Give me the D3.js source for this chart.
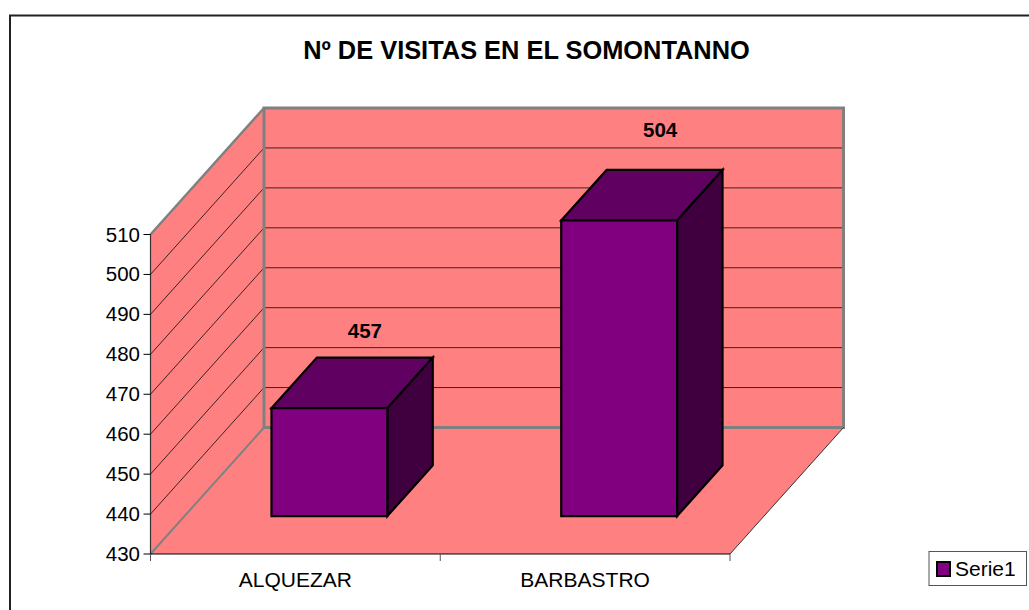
<!DOCTYPE html>
<html><head><meta charset="utf-8">
<script src="https://cdn.jsdelivr.net/npm/d3@7/dist/d3.min.js"></script>
<style>html,body{margin:0;padding:0;background:#fff}svg{display:block}text{font-family:"Liberation Sans",Arial,sans-serif;fill:#000}</style>
</head><body><svg id="c" width="1029" height="610"></svg>
<script>
const titleText = "Nº DE VISITAS EN EL SOMONTANNO";
const categories = ["ALQUEZAR", "BARBASTRO"];
const values = [457, 504];
const yTicks = [430,440,450,460,470,480,490,500,510];
const seriesName = "Serie1";

const svg = d3.select("#c");
const y = d3.scaleLinear().domain([430,510]).range([554,234.5]);
const x = d3.scaleBand().domain(categories).range([150.5,730]);
// depth: 0 = front plane, 1 = back wall
const dx = d3.scaleLinear().domain([0,1]).range([0,113.5]);
const dy = d3.scaleLinear().domain([0,1]).range([0,-126.5]);
const pt = (px,py,d=0)=>[px+dx(d), py+dy(d)];
const poly = pts => "M"+pts.map(p=>p.join(",")).join("L")+"Z";
const x0=x.range()[0], x1=x.range()[1], yb=y(430), yt=y(510);

svg.append("path").attr("d","M10,610V15.5H1029").attr("fill","none").attr("stroke","#222").attr("stroke-width",2);

svg.append("text").attr("x",526.5).attr("y",59).attr("text-anchor","middle").attr("font-size",25.4).attr("font-weight","bold").text(titleText);

// floor
svg.append("path").attr("d",poly([pt(x0,yb,0),pt(x1,yb,0),pt(x1,yb,1),pt(x0,yb,1)])).attr("fill","#ff8080");
// side wall
svg.append("path").attr("d",poly([pt(x0,yb,0),pt(x0,yt,0),pt(x0,yt,1),pt(x0,yb,1)])).attr("fill","#ff8080");
// back wall
svg.append("path").attr("d",poly([pt(x0,yb,1),pt(x0,yt,1),pt(x1,yt,1),pt(x1,yb,1)])).attr("fill","#ff8080");

// gridlines
const grid = yTicks.slice(1,-1);
svg.append("g").selectAll("path").data(grid).join("path")
  .attr("d",v=>d3.line()([pt(x0,y(v),0),pt(x0,y(v),1),pt(x1,y(v),1)]))
  .attr("fill","none").attr("stroke","#000").attr("stroke-width",1).attr("stroke-opacity",.75);

// wall edges
const gray="#808080";
svg.append("path").attr("d",d3.line()([pt(x0,yb,1),pt(x1,yb,1),pt(x1,yt,1),pt(x0,yt,1),pt(x0,yb,1)])).attr("fill","none").attr("stroke",gray).attr("stroke-width",3);
svg.append("path").attr("d",d3.line()([pt(x0,yb,0),pt(x0,yb,1)])).attr("fill","none").attr("stroke",gray).attr("stroke-width",2);
svg.append("path").attr("d",d3.line()([pt(x0,yt,0),pt(x0,yt,1)])).attr("fill","none").attr("stroke",gray).attr("stroke-width",2.5);
svg.append("path").attr("d",d3.line()([pt(x1,yb,0),pt(x1,yb,1)])).attr("fill","none").attr("stroke","#333").attr("stroke-width",1);

// bars
const f0=.3,f1=.7;
const bw=x.bandwidth();
const labelShift=[[35.5,-70],[41,-84]];
const bars=svg.append("g").selectAll("g").data(categories.map((c,i)=>({c,v:values[i],s:labelShift[i]}))).join("g");
const bx=(d,t)=>x(d.c)+bw*t;
// bars stand on the plane y = 430 at depth f0
const base=y(430), topY=d=>y(d.v);
const style=s=>s.attr("stroke","#000").attr("stroke-width",2.2).attr("stroke-linejoin","miter");
bars.append("path").attr("d",d=>poly([pt(bx(d,f1),topY(d),f0),pt(bx(d,f1),topY(d),f1),pt(bx(d,f0),topY(d),f1),pt(bx(d,f0),topY(d),f0)])).attr("fill","#600060").call(style);
bars.append("path").attr("d",d=>poly([pt(bx(d,f1),base,f0),pt(bx(d,f1),base,f1),pt(bx(d,f1),topY(d),f1),pt(bx(d,f1),topY(d),f0)])).attr("fill","#400040").call(style);
bars.append("path").attr("d",d=>poly([pt(bx(d,f0),base,f0),pt(bx(d,f1),base,f0),pt(bx(d,f1),topY(d),f0),pt(bx(d,f0),topY(d),f0)])).attr("fill","#800080").call(style);

// data labels
bars.append("text").attr("x",d=>pt(bx(d,.5),0,f0)[0]+d.s[0]).attr("y",d=>pt(0,topY(d),f0)[1]+d.s[1])
  .attr("text-anchor","middle").attr("font-size",20.5).attr("font-weight","bold").text(d=>d.v);

// axes
const ax=svg.append("g").attr("stroke","#000").attr("fill","none");
ax.append("path").attr("d",d3.line()([[x0,yt],[x0,yb]])).attr("stroke","#333").attr("stroke-width",1.2);
ax.append("path").attr("d",d3.line()([[x0,yb],[x1,yb]]));
svg.append("g").attr("stroke","#000").selectAll("line").data(yTicks).join("line")
  .attr("x1",x0-7).attr("x2",x0).attr("y1",d=>y(d)).attr("y2",d=>y(d));
svg.append("g").attr("stroke","#555").selectAll("line").data([x0,x0+bw,x1]).join("line")
  .attr("x1",d=>d).attr("x2",d=>d).attr("y1",yb).attr("y2",yb+7);
svg.append("g").selectAll("text").data(yTicks).join("text")
  .attr("x",x0-10.5).attr("y",d=>y(d)+7).attr("text-anchor","end").attr("font-size",20.5).text(d=>d);
svg.append("g").selectAll("text").data(categories).join("text")
  .attr("x",d=>x(d)+bw/2).attr("y",587).attr("text-anchor","middle").attr("font-size",21).text(d=>d);

// legend
svg.append("rect").attr("x",929).attr("y",551.5).attr("width",97.5).attr("height",34).attr("fill","#fff").attr("stroke","#555");
svg.append("rect").attr("x",937).attr("y",562).attr("width",13).attr("height",14).attr("fill","#800080").attr("stroke","#000").attr("stroke-width",2);
svg.append("text").attr("x",955).attr("y",575.5).attr("font-size",21).text(seriesName);
</script></body></html>
